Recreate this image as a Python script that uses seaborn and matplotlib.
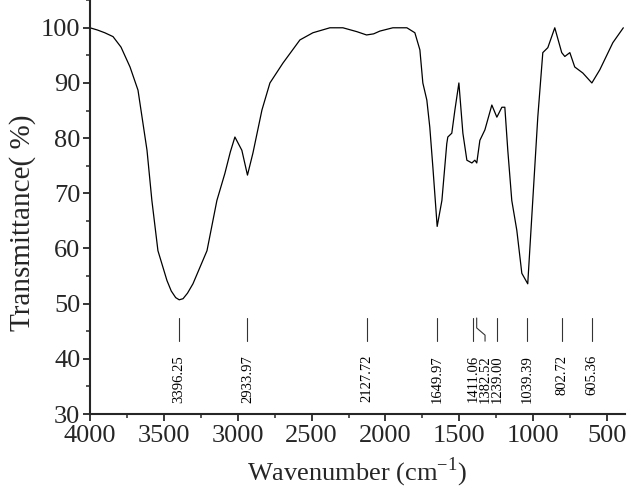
import numpy as np
import pandas as pd
import matplotlib
matplotlib.use("Agg")
import matplotlib.pyplot as plt
from matplotlib.ticker import MultipleLocator
import seaborn as sns

# ---- spectrum (wavenumber, transmittance %) ----
wavenumber = [4000, 3950, 3900, 3844, 3790, 3729, 3675, 3614, 3581, 3540, 3479,
              3450, 3420, 3396, 3370, 3340, 3303, 3208, 3141, 3087, 3050, 3019,
              2972, 2934, 2897, 2836, 2782, 2694, 2579, 2491, 2376, 2288, 2194,
              2128, 2080, 2038, 1950, 1855, 1801, 1767, 1747, 1720, 1700, 1679,
              1650, 1618, 1585, 1578, 1551, 1530, 1503, 1476, 1449, 1415, 1395,
              1382, 1361, 1327, 1280, 1246, 1212, 1192, 1172, 1145, 1111, 1077,
              1037, 1003, 969, 935, 901, 854, 807, 786, 752, 719, 664, 603, 549,
              461, 390]
transmittance = [100.0, 99.6, 99.1, 98.4, 96.5, 92.9, 88.7, 77.8, 68.7, 59.6, 54.2,
                 52.3, 51.1, 50.7, 50.9, 51.9, 53.6, 59.6, 68.7, 73.6, 77.5, 80.2,
                 77.8, 73.3, 77.3, 85.1, 90.0, 93.6, 97.8, 99.1, 100.0, 100.0, 99.3,
                 98.7, 98.9, 99.4, 100.0, 100.0, 99.1, 96.0, 90.0, 86.9, 82.0, 74.7,
                 64.0, 68.7, 79.0, 80.2, 80.9, 85.1, 90.0, 80.9, 76.0, 75.5, 76.0,
                 75.5, 79.6, 81.5, 86.0, 83.8, 85.6, 85.6, 77.8, 68.7, 63.3, 55.5,
                 53.6, 68.7, 83.8, 95.5, 96.4, 100.0, 95.5, 94.8, 95.5, 92.9, 91.8,
                 90.0, 92.4, 97.3, 100.0]

# ---- peak labels ----
peak_pos = [3396.25, 2933.97, 2127.72, 1649.97, 1411.06, 1382.52, 1239.00,
            1039.39, 802.72, 605.36]
peak_text = ["3396.25", "2933.97", "2127.72", "1649.97", "1411.06", "1382.52",
             "1239.00", "1039.39", "802.72", "605.36"]
label_x = [3396.25, 2933.97, 2127.72, 1649.97, 1408, 1326, 1244,
           1039.39, 802.72, 605.36]

df = pd.DataFrame({"wn": wavenumber, "T": transmittance})

sns.set_style("ticks")
plt.rcParams["font.family"] = ["Liberation Serif", "DejaVu Serif"]
plt.rcParams["mathtext.fontset"] = "custom"
plt.rcParams["mathtext.rm"] = "Liberation Serif"

fig = plt.figure(figsize=(6.27, 4.88), dpi=100)
ax = fig.add_axes([0.1435, 0.1516, 0.853, 0.848])

sns.lineplot(data=df, x="wn", y="T", color="black", linewidth=0.9, ax=ax)

# marker lines + rotated labels
line_top, line_bot, text_top = 47.4, 43.2, 40.7
for pos, lx, txt in zip(peak_pos, label_x, peak_text):
    if abs(lx - pos) > 40:
        # crowded label: kinked leader
        ax.plot([pos, pos, lx, lx], [line_top, 45.6, 44.3, line_bot],
                color="#333333", lw=0.8)
    else:
        ax.plot([lx, lx], [line_top, line_bot], color="#333333", lw=0.8)
    ax.text(lx, text_top, txt, rotation=90, ha="center", va="top",
            fontsize=10.5, color="black")

ax.set_xlim(4000, 380)
ax.xaxis.set_major_locator(MultipleLocator(500))
ax.xaxis.set_minor_locator(MultipleLocator(250))
ax.yaxis.set_minor_locator(MultipleLocator(5))
ax.set_yticks(range(30, 101, 10))
ax.set_ylim(30, 105)

sns.despine(ax=ax, top=True, right=True)
for s in ["left", "bottom"]:
    ax.spines[s].set_linewidth(1.5)
ax.tick_params(which="major", length=5, width=1.3, labelsize=19, direction="out", pad=2)
ax.tick_params(axis="x", which="major", pad=3)
ax.tick_params(which="minor", length=3, width=1.1, direction="out")

ax.set_xlabel(r"Wavenumber (cm$^{\mathregular{-1}}$)", fontsize=19, labelpad=6)
ax.set_ylabel("Transmittance( %)", fontsize=21)
ax.yaxis.set_label_coords(-0.1, 0.461)

fig.savefig("out.png", dpi=100)
